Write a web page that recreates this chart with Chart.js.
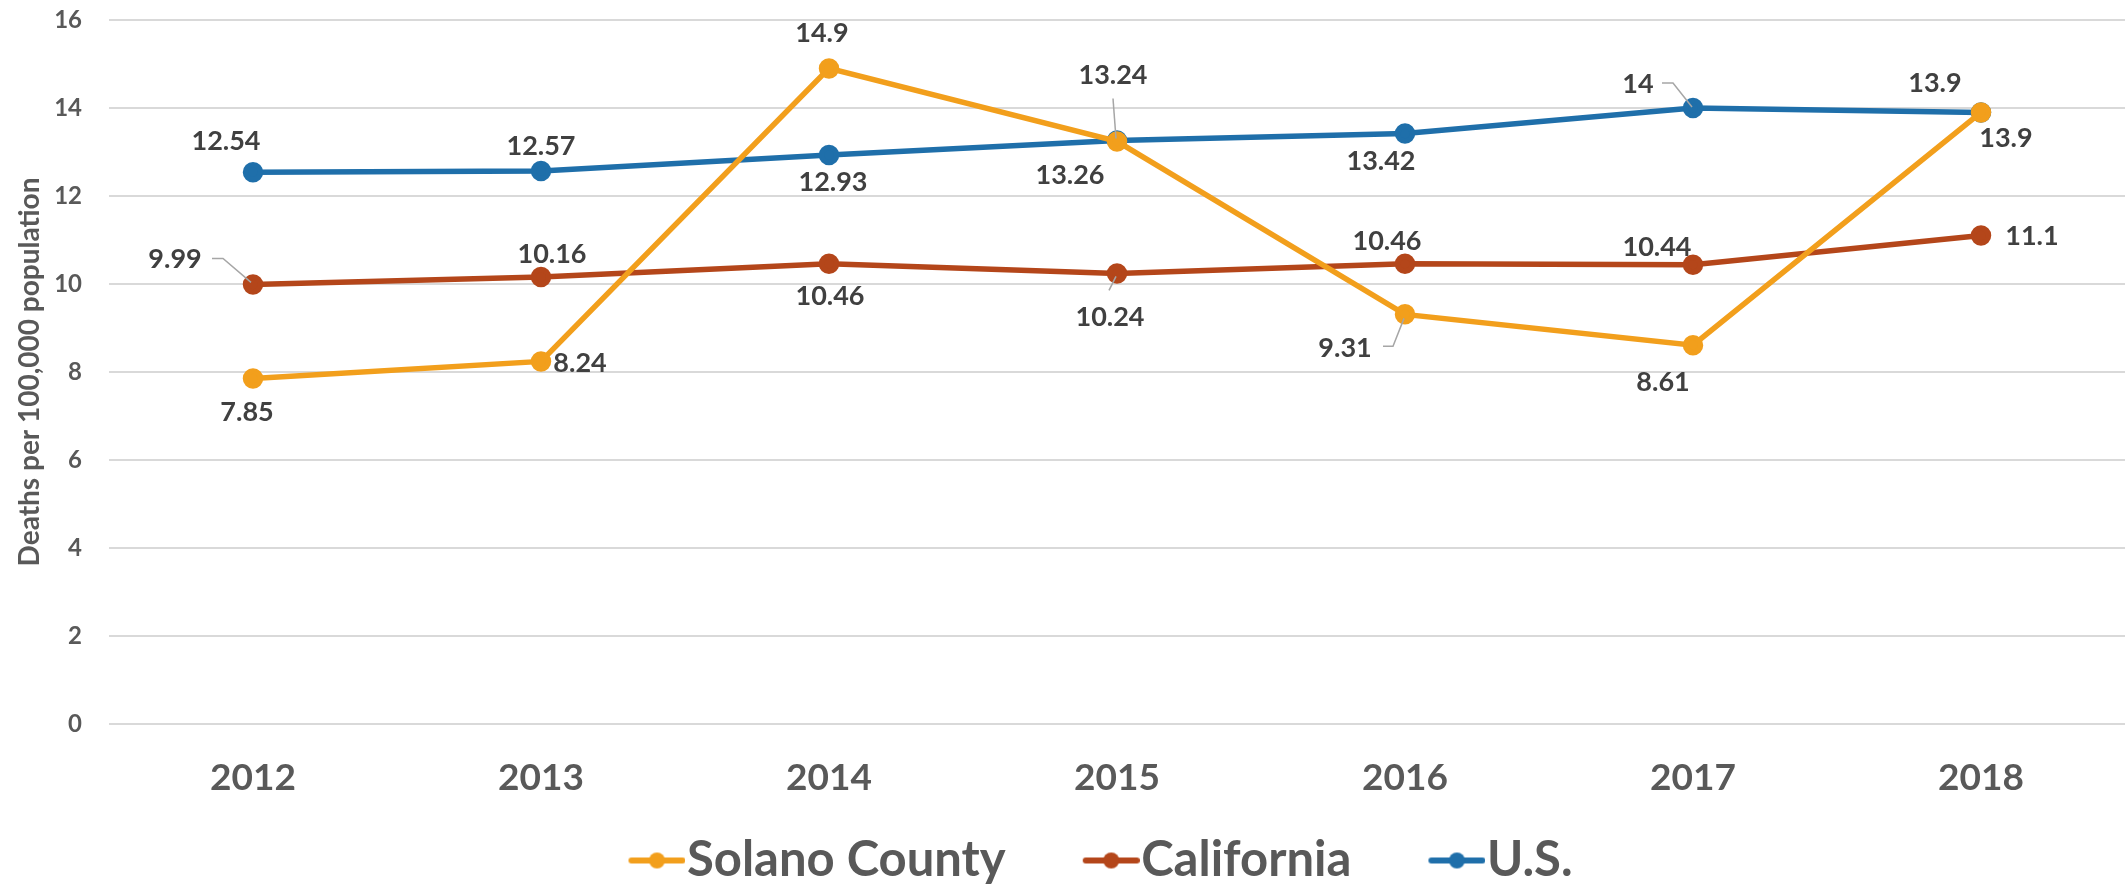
<!DOCTYPE html>
<html>
<head>
<meta charset="utf-8">
<script src="https://cdn.jsdelivr.net/npm/chart.js@4.4.0/dist/chart.umd.min.js"></script>
<style>
  html, body { margin: 0; padding: 0; background: #fff; }
</style>
</head>
<body>
<canvas id="chart" width="2126" height="885"></canvas>
<script>
const years = ['2012', '2013', '2014', '2015', '2016', '2017', '2018'];
const solano = [7.85, 8.24, 14.9, 13.24, 9.31, 8.61, 13.9];
const california = [9.99, 10.16, 10.46, 10.24, 10.46, 10.44, 11.1];
const us = [12.54, 12.57, 12.93, 13.26, 13.42, 14, 13.9];

const FONT = 'Lato, "Open Sans", sans-serif';
const colors = { solano: '#F29F1C', california: '#B4461A', us: '#1F6FAA' };

// where each data label sits, relative to its point (px)
const solanoLabelPos = [[-6, 34], [39, 2], [-7, -35], [-4, -66], [-60, 34], [-30, 37], [25, 26]];
const californiaLabelPos = [[-78, -25], [11, -23], [1, 33], [-7, 44], [-18, -22], [-36, -17], [51, 1]];
const usLabelPos = [[-27, -31], [0, -25], [4, 27], [-47, 35], [-24, 28], [-55, -24], [-46, -29]];

// leader lines (polyline relative to the point), index -> points
const solanoLeaders = { 3: [[-4, -43], [-1, -3]], 4: [[-22, 32], [-12, 32], [-1, 4]] };
const californiaLeaders = { 0: [[-41, -26], [-30, -26], [-2, -2]], 3: [[-8, 17], [-1, 3]] };
const usLeaders = { 5: [[-31, -25], [-20, -25], [-1, -1]] };

// legend marker: empty lead-in space, then line + dot
function makeMarker(color) {
    const c = document.createElement('canvas');
    c.width = 156;
    c.height = 24;
    const g = c.getContext('2d');
    g.strokeStyle = color;
    g.lineWidth = 6;
    g.lineCap = 'round';
    g.beginPath();
    g.moveTo(102, 12);
    g.lineTo(153, 12);
    g.stroke();
    g.fillStyle = color;
    g.beginPath();
    g.arc(127.5, 12, 8, 0, Math.PI * 2);
    g.fill();
    return c;
}
const markers = [makeMarker(colors.solano), makeMarker(colors.california), makeMarker(colors.us)];

const dataLabels = {
    id: 'dataLabels',
    afterDatasetsDraw(chart) {
        const ctx = chart.ctx;
        ctx.save();
        chart.data.datasets.forEach((ds, i) => {
            const meta = chart.getDatasetMeta(i);
            meta.data.forEach((pt, j) => {
                const lead = ds.leaders[j];
                if (lead) {
                    ctx.strokeStyle = '#A6A6A6';
                    ctx.lineWidth = 1.5;
                    ctx.beginPath();
                    lead.forEach((p, k) => {
                        if (k === 0) ctx.moveTo(pt.x + p[0], pt.y + p[1]);
                        else ctx.lineTo(pt.x + p[0], pt.y + p[1]);
                    });
                    ctx.stroke();
                }
                const off = ds.labelPos[j];
                ctx.fillStyle = '#404040';
                ctx.font = 'bold 27px ' + FONT;
                ctx.textAlign = 'center';
                ctx.textBaseline = 'middle';
                ctx.fillText(String(ds.data[j]), pt.x + off[0], pt.y + off[1]);
            });
        });
        ctx.restore();
    }
};

function lineSet(label, data, color, labelPos, leaders) {
    return {
        label: label,
        data: data,
        borderColor: color,
        backgroundColor: color,
        pointBackgroundColor: color,
        pointBorderColor: color,
        borderWidth: 5.5,
        pointRadius: 7.5,
        pointHoverRadius: 7.5,
        tension: 0,
        labelPos: labelPos,
        leaders: leaders
    };
}

const ctx = document.getElementById('chart').getContext('2d');
const chart = new Chart(ctx, {
    type: 'line',
    data: {
        labels: years,
        datasets: [
            lineSet('Solano County', solano, colors.solano, solanoLabelPos, solanoLeaders),
            lineSet('California', california, colors.california, californiaLabelPos, californiaLeaders),
            lineSet('U.S.', us, colors.us, usLabelPos, usLeaders)
        ]
    },
    options: {
        responsive: false,
        animation: false,
        layout: { autoPadding: false, padding: { top: 20, right: 1, left: 0, bottom: -10 } },
        plugins: {
            tooltip: { enabled: false },
            legend: {
                position: 'bottom',
                labels: {
                    usePointStyle: true,
                    pointStyleWidth: 110,
                    padding: 1,
                    color: '#595959',
                    font: { family: FONT, size: 49, weight: 'bold' },
                    generateLabels: function(chart) {
                        const items = Chart.defaults.plugins.legend.labels.generateLabels(chart);
                        items.forEach((it, i) => { it.pointStyle = markers[i]; });
                        return items;
                    }
                }
            }
        },
        scales: {
            x: {
                offset: true,
                grid: { display: false },
                border: { display: false },
                ticks: {
                    color: '#595959',
                    padding: 24,
                    font: { family: FONT, size: 37, weight: 'bold' }
                },
                afterFit: function(scale) { scale.height = 111; }
            },
            y: {
                min: 0,
                max: 16,
                border: { display: false },
                grid: { color: '#D9D9D9', lineWidth: 2, drawTicks: false },
                ticks: {
                    stepSize: 2,
                    color: '#595959',
                    padding: 27,
                    font: { family: FONT, size: 24, weight: 'bold' }
                },
                title: {
                    display: true,
                    text: 'Deaths per 100,000 population',
                    color: '#595959',
                    padding: { top: 13, bottom: 0 },
                    font: { family: FONT, size: 28, weight: 'bold' }
                },
                afterFit: function(scale) {
                    scale.width = 109;
                    scale.paddingTop = 0;
                    scale.paddingBottom = 0;
                }
            }
        }
    },
    plugins: [dataLabels]
});
</script>
</body>
</html>
